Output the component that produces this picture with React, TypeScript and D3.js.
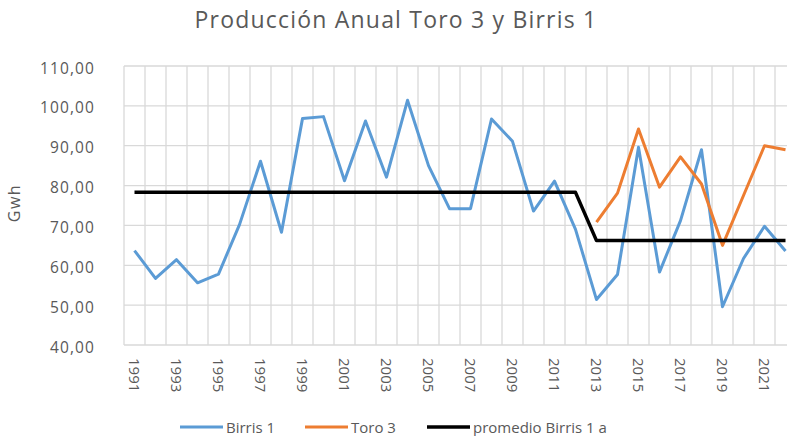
import * as d3 from "d3";

// años 1991..2022
const years = d3.range(1991, 2023).map(String);

const birris1 = [
  63.7, 56.7, 61.4, 55.6, 57.8, 70.2, 86.1, 68.3, 96.8, 97.3, 81.2, 96.2, 82.1, 101.4, 85.0, 74.2,
  74.2, 96.7, 91.1, 73.6, 81.1, 69.0, 51.4, 57.7, 89.6, 58.3, 71.2, 89.0, 49.6, 61.7, 69.8, 63.6,
];

// Toro 3 solo desde 2013
const toro3 = [
  null, null, null, null, null, null, null, null, null, null, null, null, null, null, null, null,
  null, null, null, null, null, null, 70.8, 78.1, 94.2, 79.6, 87.2, 80.4, 65.0, 77.5, 90.0, 89.0,
];

const promedio = [
  78.3, 78.3, 78.3, 78.3, 78.3, 78.3, 78.3, 78.3, 78.3, 78.3, 78.3, 78.3, 78.3, 78.3, 78.3, 78.3,
  78.3, 78.3, 78.3, 78.3, 78.3, 78.3, 66.2, 66.2, 66.2, 66.2, 66.2, 66.2, 66.2, 66.2, 66.2, 66.2,
];

const yTicks = [40, 50, 60, 70, 80, 90, 100, 110];
const labelYears = years.filter((_, i) => i % 2 === 0);

const series = [
  { name: "Birris 1", values: birris1, color: "#5B9BD5", width: 3 },
  { name: "Toro 3", values: toro3, color: "#ED7D31", width: 3 },
  { name: "promedio Birris 1 a", values: promedio, color: "#000000", width: 3.5 },
];

const W = 787;
const H = 436;
const font = "'Open Sans', sans-serif";
const textColor = "#595959";
const gridColor = "#d9d9d9";

export default function App() {
  const plot = { left: 124, top: 66, right: 796, bottom: 345 };

  const x = d3.scaleBand().domain(years).range([plot.left, plot.right]);
  const y = d3.scaleLinear().domain([40, 110]).range([plot.bottom, plot.top]);
  const cx = (yr: string) => (x(yr) as number) + x.bandwidth() / 2;

  const line = d3
    .line<number | null>()
    .defined((d) => d != null)
    .x((_, i) => cx(years[i]))
    .y((d) => y(d as number));

  // posiciones de la leyenda
  const legendX = [180, 305, 427];

  return (
    <svg
      width={W}
      height={H}
      style={{ position: "absolute", left: 0, top: 0, background: "#fff" }}
      fontFamily={font}
    >
      <text x={396} y={28} textAnchor="middle" fontSize={23} letterSpacing={1.2} fill={textColor}>
        Producción Anual Toro 3 y Birris 1
      </text>

      {/* rejilla */}
      {yTicks.map((t) => (
        <line key={`h${t}`} x1={plot.left} x2={plot.right} y1={y(t)} y2={y(t)} stroke={gridColor} strokeWidth={1.3} />
      ))}
      {years.concat(["end"]).map((yr, i) => {
        const xx = plot.left + i * x.bandwidth();
        return <line key={`v${i}`} x1={xx} x2={xx} y1={plot.top} y2={plot.bottom} stroke={gridColor} strokeWidth={1.3} />;
      })}

      {yTicks.map((t) => (
        <text
          key={`yl${t}`}
          x={95}
          y={y(t) + 1.5}
          textAnchor="end"
          dominantBaseline="central"
          fontSize={15.5}
          letterSpacing={1.1}
          fill={textColor}
        >
          {d3.format(".2f")(t).replace(".", ",")}
        </text>
      ))}

      <text
        transform={`translate(14,203) rotate(-90)`}
        textAnchor="middle"
        dominantBaseline="central"
        fontSize={16}
        letterSpacing={1.5}
        fill={textColor}
      >
        Gwh
      </text>

      {labelYears.map((yr) => (
        <text
          key={`xl${yr}`}
          transform={`translate(${cx(yr)},358) rotate(90)`}
          textAnchor="start"
          dominantBaseline="central"
          fontSize={15}
          fill={textColor}
        >
          {yr}
        </text>
      ))}

      {series.map((s) => (
        <path
          key={s.name}
          d={line(s.values) || ""}
          fill="none"
          stroke={s.color}
          strokeWidth={s.width}
          strokeLinejoin="round"
        />
      ))}

      {series.map((s, i) => (
        <g key={`lg${s.name}`} transform={`translate(${legendX[i]},427)`}>
          <line x1={0} x2={43} y1={0} y2={0} stroke={s.color} strokeWidth={s.width} />
          <text x={46} y={0} dominantBaseline="central" fontSize={15} fill={textColor}>
            {s.name}
          </text>
        </g>
      ))}
    </svg>
  );
}
